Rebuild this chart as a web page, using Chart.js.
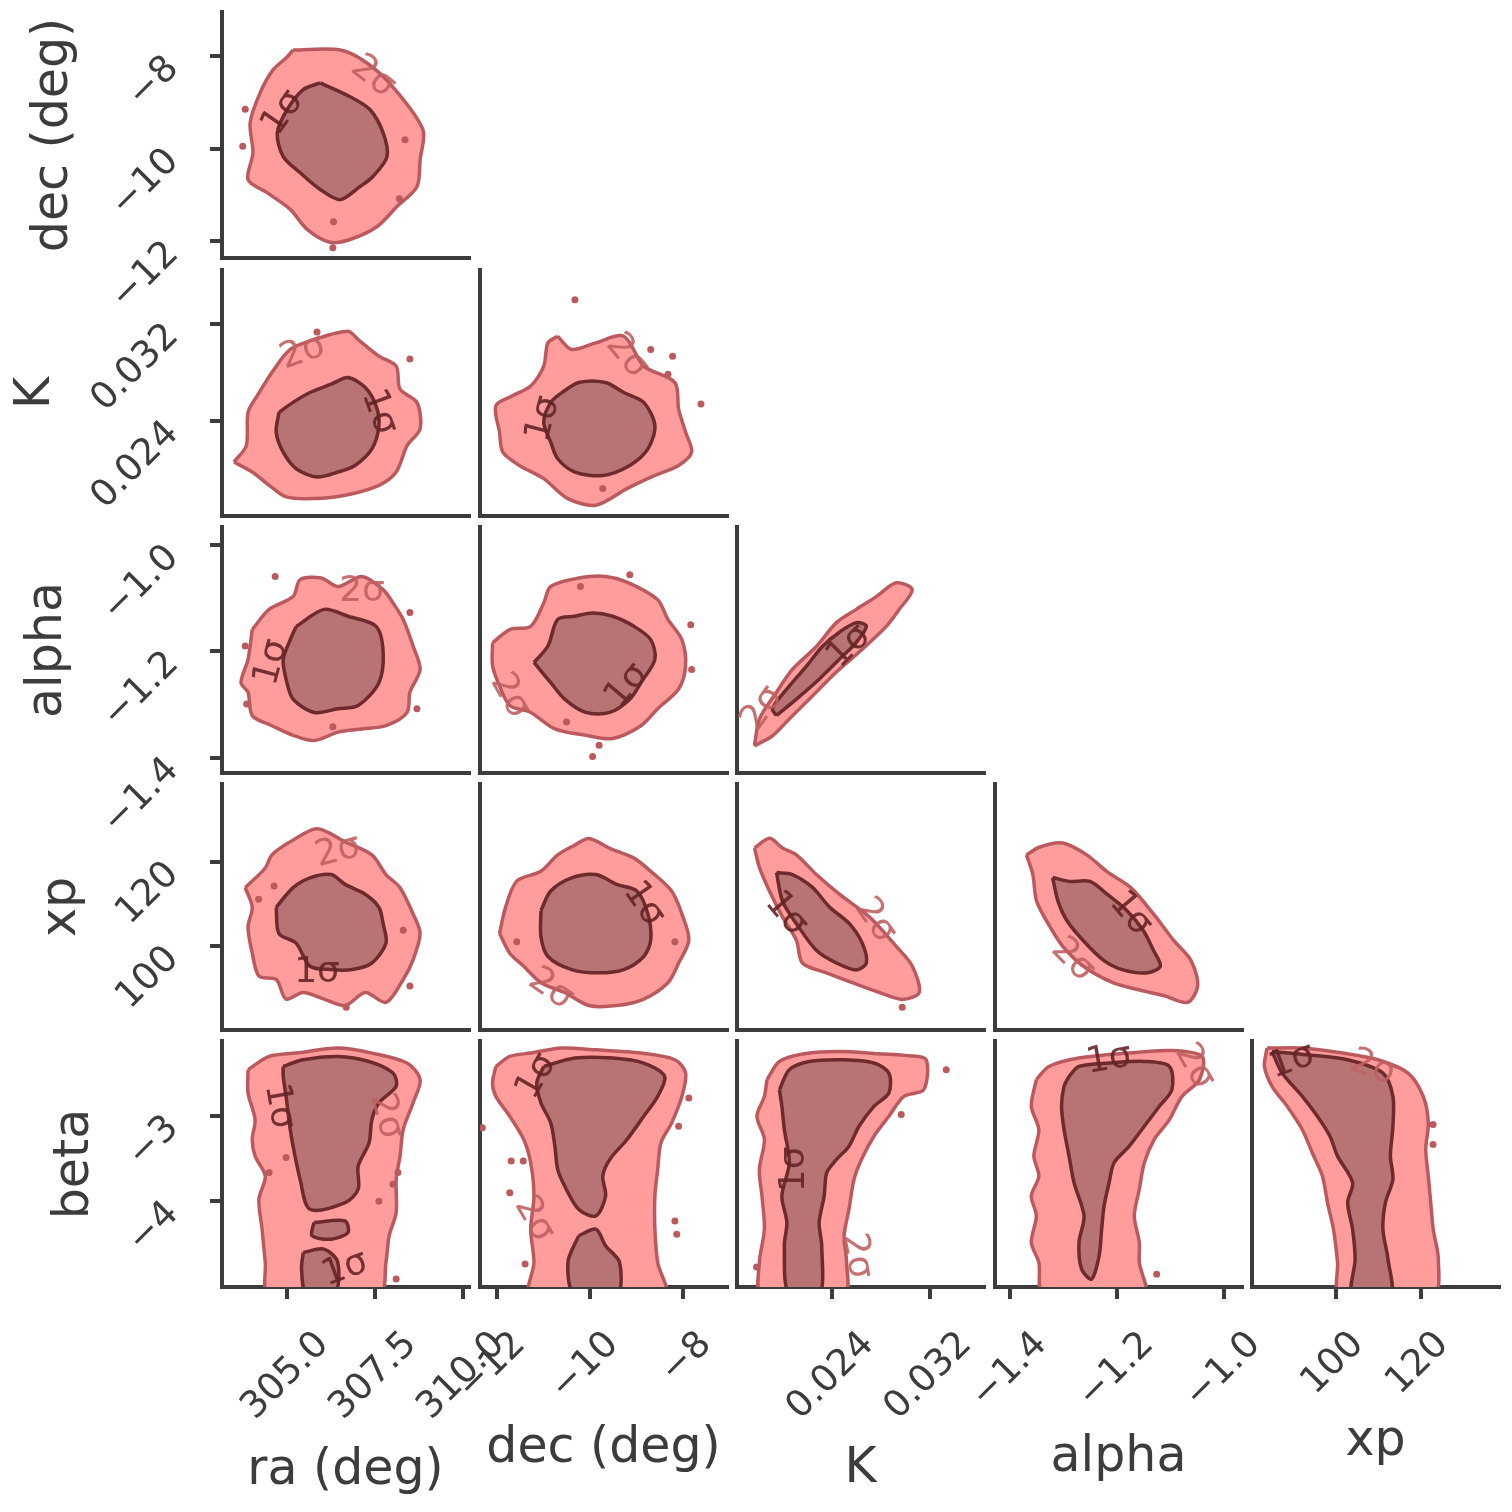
<!DOCTYPE html>
<html>
<head>
<meta charset="utf-8">
<title>Corner plot</title>
<script src="https://cdn.jsdelivr.net/npm/chart.js@4.4.1/dist/chart.umd.min.js"></script>
<style>
  html, body { margin: 0; padding: 0; background: #fff; }
  #page { position: relative; width: 1512px; height: 1512px; overflow: hidden; background: #fff; }
  #page canvas { position: absolute; }
</style>
</head>
<body>
<div id="page"></div>
<script>
// parameters (x columns: 0..4, y rows: 1..5)
const paramNames = ['ra (deg)', 'dec (deg)', 'K', 'alpha', 'xp', 'beta'];
const paramMin = [303.15, -12.36, 0.0162, -1.429, 80.2, -5.0];
const paramMax = [310.17, -7.05, 0.0364, -0.966, 138.4, -2.13];
const paramTicks = [[305, 307.5, 310], [-12, -10, -8], [0.024, 0.032], [-1.4, -1.2, -1.0], [100, 120], [-4, -3]];
const tickLabels = [['305.0', '307.5', '310.0'], ['−12', '−10', '−8'], ['0.024', '0.032'], ['−1.4', '−1.2', '−1.0'], ['100', '120'], ['−4', '−3']];

// contour levels: [x, y] in data units
const RA_DEC_2S = [[305.17,-7.87],[306.51,-7.87],[307.27,-8.15],[308.01,-8.67],[308.86,-9.59],[308.78,-10.24],[308.69,-10.82],[308.12,-11.25],[307.56,-11.68],[306.79,-11.96],[306.22,-12.02],[305.57,-11.74],[305.09,-11.31],[304.43,-10.95],[303.89,-10.67],[304.03,-10.09],[303.95,-9.44],[304.23,-8.80],[304.60,-8.30],[305.00,-8.02]];
const RA_DEC_1S = [[305.94,-8.58],[306.79,-8.88],[307.36,-9.16],[307.73,-9.66],[307.84,-10.17],[307.44,-10.60],[307.07,-10.82],[306.51,-11.10],[305.94,-10.88],[305.37,-10.52],[304.89,-10.17],[304.72,-9.66],[305.00,-9.16],[305.45,-8.73]];
const RA_DEC_DOTS = [[303.81,-9.15],[303.74,-9.95],[308.35,-9.81],[308.19,-11.08],[306.30,-12.14],[306.32,-11.58]];
const RA_DEC_LBL = [[304.89,-9.23,'1σ',-55],[307.44,-8.45,'2σ',38]];

const RA_K_2S = [[303.49,0.02063],[303.84,0.02198],[303.89,0.02471],[304.15,0.02607],[304.63,0.02824],[305.09,0.02988],[305.77,0.03069],[306.73,0.03137],[307.02,0.03069],[307.61,0.02933],[308.10,0.02851],[308.21,0.02661],[308.69,0.02553],[308.78,0.02335],[308.41,0.02198],[308.10,0.01981],[307.61,0.01872],[306.65,0.01790],[305.77,0.01763],[304.97,0.01777],[304.49,0.01872],[304.01,0.01981]];
const RA_K_1S = [[304.77,0.02471],[305.17,0.02553],[305.65,0.02634],[306.25,0.02702],[306.73,0.02757],[307.22,0.02675],[307.53,0.02525],[307.61,0.02362],[307.41,0.02171],[306.93,0.02035],[306.45,0.01981],[305.85,0.01940],[305.26,0.02008],[304.89,0.02144],[304.69,0.02308]];
const RA_K_DOTS = [[305.85,0.0313],[308.49,0.0291]];
const RA_K_LBL = [[305.45,0.02963,'2σ',-20],[307.61,0.02473,'1σ',70]];

const DEC_K_2S = [[-10.69,0.03096],[-10.39,0.02988],[-9.87,0.03042],[-9.27,0.03096],[-8.84,0.02851],[-8.17,0.02716],[-8.09,0.02498],[-7.94,0.02308],[-7.81,0.02144],[-8.09,0.02035],[-8.60,0.01953],[-9.20,0.01845],[-9.87,0.01709],[-10.47,0.01763],[-10.99,0.01927],[-11.51,0.02035],[-11.87,0.02144],[-11.94,0.02308],[-12.02,0.02525],[-11.66,0.02607],[-11.27,0.02688],[-10.99,0.02851],[-10.90,0.03042]];
const DEC_K_1S = [[-10.60,0.02634],[-10.24,0.02716],[-9.66,0.02716],[-9.27,0.02634],[-8.84,0.02553],[-8.60,0.02362],[-8.75,0.02171],[-9.14,0.02035],[-9.72,0.01953],[-10.32,0.01981],[-10.69,0.02090],[-10.84,0.02226],[-10.99,0.02389],[-10.84,0.02553]];
const DEC_K_DOTS = [[-10.32,0.03396],[-8.69,0.02988],[-8.32,0.02784],[-8.22,0.02931],[-7.61,0.02539],[-9.72,0.01845]];
const DEC_K_LBL = [[-10.99,0.02416,'1σ',-75],[-9.20,0.02933,'2σ',50]];

const RA_AL_2S = [[304.01,-1.159],[304.49,-1.121],[305.17,-1.097],[305.37,-1.065],[305.97,-1.062],[306.45,-1.078],[307.13,-1.059],[307.73,-1.084],[308.01,-1.109],[308.30,-1.140],[308.58,-1.190],[308.78,-1.234],[308.49,-1.277],[308.41,-1.315],[307.81,-1.340],[307.13,-1.346],[306.45,-1.352],[305.77,-1.368],[305.17,-1.358],[304.57,-1.340],[304.01,-1.321],[303.89,-1.277],[303.69,-1.259],[303.89,-1.215]];
const RA_AL_1S = [[305.26,-1.153],[306.05,-1.121],[306.73,-1.134],[307.53,-1.153],[307.73,-1.202],[307.61,-1.259],[307.02,-1.302],[306.45,-1.308],[305.77,-1.315],[305.17,-1.290],[304.97,-1.252],[304.89,-1.215],[305.09,-1.178]];
const RA_AL_DOTS = [[304.66,-1.059],[303.81,-1.190],[303.85,-1.299],[308.49,-1.127],[308.69,-1.308],[306.30,-1.342]];
const RA_AL_LBL = [[307.13,-1.087,'2σ',0],[304.57,-1.221,'1σ',-75]];

const DEC_AL_2S = [[-12.09,-1.184],[-11.72,-1.159],[-11.27,-1.153],[-10.99,-1.109],[-10.84,-1.078],[-10.24,-1.062],[-9.66,-1.059],[-9.14,-1.072],[-8.54,-1.103],[-8.32,-1.140],[-8.02,-1.178],[-7.94,-1.227],[-8.09,-1.271],[-8.54,-1.308],[-8.90,-1.340],[-9.51,-1.364],[-10.09,-1.358],[-10.75,-1.346],[-11.27,-1.315],[-11.72,-1.302],[-11.94,-1.265],[-12.09,-1.227]];
const DEC_AL_1S = [[-11.20,-1.221],[-10.90,-1.190],[-10.69,-1.140],[-10.32,-1.134],[-9.94,-1.128],[-9.51,-1.134],[-9.05,-1.153],[-8.69,-1.178],[-8.60,-1.215],[-8.90,-1.259],[-9.14,-1.290],[-9.57,-1.315],[-10.09,-1.315],[-10.54,-1.290],[-10.84,-1.259]];
const DEC_AL_DOTS = [[-9.94,-1.398],[-9.80,-1.377],[-7.83,-1.150],[-7.81,-1.234],[-9.14,-1.056],[-10.20,-1.078],[-10.50,-1.333]];
const DEC_AL_LBL = [[-11.72,-1.284,'2σ',60],[-9.20,-1.265,'1σ',-50]];

const K_AL_2S = [[0.01763,-1.378],[0.01910,-1.359],[0.02049,-1.327],[0.02237,-1.284],[0.02433,-1.239],[0.02645,-1.196],[0.02841,-1.153],[0.02947,-1.121],[0.03053,-1.084],[0.02922,-1.071],[0.02759,-1.097],[0.02596,-1.121],[0.02433,-1.146],[0.02269,-1.191],[0.02073,-1.234],[0.01943,-1.277],[0.01804,-1.327]];
const K_AL_1S = [[0.01943,-1.321],[0.02106,-1.290],[0.02294,-1.252],[0.02457,-1.215],[0.02596,-1.183],[0.02678,-1.153],[0.02596,-1.146],[0.02457,-1.164],[0.02318,-1.191],[0.02188,-1.228],[0.02049,-1.265],[0.01910,-1.308]];
const K_AL_LBL = [[0.02539,-1.191,'1σ',-45],[0.01829,-1.308,'2σ',-55]];

const RA_XP_2S = [[303.81,113.88],[304.38,118.53],[304.57,121.63],[305.09,124.72],[305.85,127.84],[306.65,124.72],[307.41,121.63],[307.81,116.98],[308.21,113.88],[308.58,107.67],[308.78,103.02],[308.58,96.81],[308.30,92.16],[307.81,86.74],[307.22,89.07],[306.65,85.98],[306.05,87.51],[305.45,89.07],[304.97,87.51],[304.69,92.16],[304.20,92.95],[304.01,98.37],[303.89,104.58],[304.01,109.23]];
const RA_XP_1S = [[304.69,109.23],[305.17,113.88],[305.65,116.21],[306.25,116.98],[306.65,114.65],[307.22,112.33],[307.61,109.23],[307.73,105.35],[307.81,100.70],[307.41,96.05],[306.85,94.49],[306.25,94.49],[305.65,95.28],[305.26,100.70],[304.77,103.02]];
const RA_XP_DOTS = [[304.63,114.26],[308.30,103.80],[308.49,90.63],[306.68,85.58],[304.19,111.16]];
const RA_XP_LBL = [[306.45,122.40,'2σ',-15],[305.85,93.72,'1σ',0]];

const DEC_XP_2S = [[-11.94,103.02],[-11.81,109.23],[-11.57,115.42],[-11.05,117.74],[-10.69,121.63],[-10.32,123.95],[-10.02,125.51],[-9.57,123.19],[-9.05,120.86],[-8.69,117.74],[-8.24,113.09],[-8.02,107.67],[-7.87,101.47],[-8.09,96.05],[-8.32,91.40],[-8.84,87.51],[-9.42,85.98],[-10.02,85.98],[-10.54,89.07],[-11.05,91.40],[-11.42,95.28],[-11.72,98.37]];
const DEC_XP_1S = [[-11.05,108.44],[-10.84,113.09],[-10.39,116.21],[-9.87,116.98],[-9.42,114.65],[-8.99,113.09],[-8.75,107.67],[-8.69,101.47],[-8.84,97.60],[-9.27,94.49],[-9.81,93.72],[-10.39,94.49],[-10.90,97.60],[-11.05,102.26]];
const DEC_XP_DOTS = [[-11.57,101.09],[-8.17,101.09]];
const DEC_XP_LBL = [[-8.84,110.0,'1σ',55],[-10.84,89.84,'2σ',35]];

const K_XP_2S = [[0.01763,123.26],[0.01886,125.58],[0.01992,123.26],[0.02106,121.63],[0.02269,116.98],[0.02457,112.33],[0.02702,106.98],[0.02922,100.00],[0.03053,95.35],[0.03110,89.07],[0.02971,87.44],[0.02784,89.07],[0.02563,91.40],[0.02351,93.72],[0.02155,96.05],[0.02106,101.40],[0.01992,106.98],[0.01886,113.02],[0.01804,118.60]];
const K_XP_1S = [[0.01943,117.44],[0.02073,116.98],[0.02237,113.95],[0.02376,109.30],[0.02539,105.35],[0.02645,100.70],[0.02678,96.05],[0.02596,94.42],[0.02433,96.05],[0.02269,99.07],[0.02106,105.35],[0.01992,110.70]];
const K_XP_DOTS = [[0.02971,85.58]];
const K_XP_LBL = [[0.02022,107.67,'1σ',50],[0.02750,106.10,'2σ',55]];

const AL_XP_2S = [[-1.370,121.63],[-1.345,123.49],[-1.302,124.42],[-1.257,121.63],[-1.219,117.67],[-1.175,113.95],[-1.132,107.67],[-1.094,101.40],[-1.062,96.74],[-1.049,90.70],[-1.068,86.74],[-1.113,88.37],[-1.162,89.77],[-1.208,91.40],[-1.264,95.35],[-1.302,100.00],[-1.326,104.65],[-1.351,110.70],[-1.358,116.98]];
const AL_XP_1S = [[-1.321,116.28],[-1.289,115.35],[-1.251,115.35],[-1.219,112.33],[-1.181,108.37],[-1.151,103.72],[-1.132,99.07],[-1.119,95.35],[-1.143,93.72],[-1.189,94.42],[-1.226,96.74],[-1.264,101.40],[-1.294,106.05],[-1.311,110.70]];
const AL_XP_LBL = [[-1.175,107.67,'1σ',50],[-1.283,96.74,'2σ',45]];

const RA_BE_2S = [[303.89,-2.465],[304.49,-2.310],[305.26,-2.271],[306.45,-2.213],[307.41,-2.271],[308.41,-2.387],[308.78,-2.581],[308.58,-2.852],[308.30,-3.163],[308.21,-3.473],[308.10,-3.744],[308.10,-4.131],[307.90,-4.403],[307.81,-4.713],[307.61,-5.1],[304.49,-5.1],[304.38,-4.713],[304.29,-4.326],[304.20,-3.977],[304.38,-3.706],[304.09,-3.473],[304.01,-3.279],[304.09,-3.047],[303.89,-2.736]];
const RA_BE_1S = [[304.89,-2.427],[305.45,-2.349],[306.45,-2.310],[307.33,-2.369],[308.01,-2.504],[308.10,-2.659],[307.61,-2.852],[307.41,-3.047],[307.33,-3.317],[307.02,-3.590],[307.02,-3.860],[306.65,-4.015],[305.65,-4.093],[305.37,-3.744],[305.17,-3.357],[305.09,-3.163],[304.97,-2.776],[304.89,-2.543]];
const RA_BE_1S_B = [[305.76,-4.248],[306.64,-4.229],[306.73,-4.364],[306.25,-4.442],[305.71,-4.403]];
const RA_BE_1S_C = [[305.46,-4.597],[306.05,-4.558],[306.44,-4.713],[306.34,-5.1],[305.56,-5.1],[305.41,-4.791]];
const RA_BE_DOTS = [[304.49,-3.663],[304.97,-3.488],[308.15,-3.663],[308.01,-3.802],[307.61,-4.0],[308.10,-4.907]];
const RA_BE_LBL = [[304.77,-2.892,'1σ',80],[307.81,-3.008,'2σ',75],[306.65,-4.791,'1σ',-20]];

const DEC_BE_2S = [[-12.02,-2.427],[-11.72,-2.310],[-11.27,-2.271],[-10.60,-2.213],[-9.87,-2.233],[-8.90,-2.271],[-8.17,-2.349],[-7.94,-2.504],[-8.02,-2.776],[-8.24,-3.085],[-8.47,-3.317],[-8.54,-3.628],[-8.60,-3.938],[-8.60,-4.326],[-8.54,-4.713],[-8.39,-5.1],[-11.27,-5.1],[-11.20,-4.713],[-11.27,-4.326],[-11.20,-3.938],[-11.27,-3.550],[-11.42,-3.279],[-11.72,-3.008],[-12.02,-2.776],[-12.09,-2.620]];
const DEC_BE_1S = [[-10.99,-2.427],[-10.32,-2.329],[-9.51,-2.329],[-8.84,-2.387],[-8.39,-2.543],[-8.54,-2.776],[-8.84,-3.008],[-9.20,-3.279],[-9.57,-3.512],[-9.72,-3.706],[-9.66,-3.938],[-9.87,-4.171],[-10.24,-4.093],[-10.54,-3.822],[-10.69,-3.628],[-10.75,-3.357],[-10.84,-3.085],[-11.05,-2.852],[-11.14,-2.620]];
const DEC_BE_1S_B = [[-10.24,-4.403],[-9.87,-4.326],[-9.66,-4.519],[-9.36,-4.713],[-9.42,-5.1],[-10.32,-5.1],[-10.47,-4.713]];
const DEC_BE_DOTS = [[-11.69,-3.531],[-11.43,-3.531],[-11.72,-3.899],[-12.31,-3.143],[-7.87,-2.795],[-8.09,-3.124],[-8.17,-4.229],[-8.13,-4.384],[-11.39,-4.733]];
const DEC_BE_LBL = [[-11.14,-2.543,'1σ',-60],[-11.20,-4.209,'2σ',60]];

const K_BE_2S = [[0.01865,-2.581],[0.01967,-2.369],[0.02170,-2.279],[0.02455,-2.252],[0.02780,-2.279],[0.03025,-2.302],[0.03167,-2.349],[0.03147,-2.698],[0.02985,-2.776],[0.02862,-3.008],[0.02740,-3.241],[0.02638,-3.512],[0.02577,-3.744],[0.02536,-4.093],[0.02496,-4.403],[0.02516,-4.713],[0.02496,-5.1],[0.01824,-5.1],[0.01803,-4.713],[0.01844,-4.326],[0.01824,-3.938],[0.01803,-3.628],[0.01844,-3.279],[0.01783,-3.008],[0.01844,-2.776]];
const K_BE_1S = [[0.01967,-2.698],[0.02048,-2.465],[0.02211,-2.369],[0.02496,-2.349],[0.02740,-2.387],[0.02862,-2.504],[0.02862,-2.736],[0.02740,-2.892],[0.02618,-3.124],[0.02536,-3.357],[0.02434,-3.512],[0.02354,-3.666],[0.02333,-3.938],[0.02292,-4.248],[0.02313,-4.520],[0.02292,-5.1],[0.02048,-5.1],[0.02007,-4.520],[0.02028,-4.248],[0.01987,-3.938],[0.02048,-3.550],[0.02007,-3.163],[0.01987,-2.892]];
const K_BE_DOTS = [[0.03331,-2.465],[0.02963,-2.988],[0.01780,-4.767]];
const K_BE_LBL = [[0.02088,-3.628,'1σ',-90],[0.02596,-4.636,'2σ',80]];

const AL_BE_2S = [[-1.3515,-2.581],[-1.3279,-2.427],[-1.2715,-2.329],[-1.1774,-2.271],[-1.1021,-2.241],[-1.0409,-2.310],[-1.0457,-2.581],[-1.0785,-2.776],[-1.1021,-3.047],[-1.1304,-3.279],[-1.1491,-3.550],[-1.1585,-3.860],[-1.1679,-4.171],[-1.1585,-4.480],[-1.1585,-4.713],[-1.1491,-5.1],[-1.3374,-5.1],[-1.3468,-4.713],[-1.3609,-4.480],[-1.3515,-4.171],[-1.3609,-3.938],[-1.3468,-3.706],[-1.3562,-3.473],[-1.3468,-3.163],[-1.3609,-2.892]];
const AL_BE_1S = [[-1.2902,-2.543],[-1.2715,-2.427],[-1.2151,-2.387],[-1.1491,-2.369],[-1.1021,-2.427],[-1.0974,-2.698],[-1.1209,-2.892],[-1.1491,-3.124],[-1.1774,-3.357],[-1.2057,-3.550],[-1.2151,-3.783],[-1.2245,-4.055],[-1.2291,-4.326],[-1.2338,-4.636],[-1.2479,-4.907],[-1.2668,-4.791],[-1.2715,-4.480],[-1.2621,-4.171],[-1.2809,-3.783],[-1.2902,-3.473],[-1.2996,-3.163],[-1.3043,-2.892],[-1.2996,-2.659]];
const AL_BE_DOTS = [[-1.126,-4.85]];
const AL_BE_LBL = [[-1.215,-2.349,'1σ',-10],[-1.055,-2.427,'2σ',60]];

const XP_BE_2S = [[83.74,-2.213],[92.05,-2.213],[101.55,-2.271],[109.86,-2.349],[116.98,-2.504],[120.55,-2.776],[121.74,-3.085],[121.14,-3.395],[121.74,-3.706],[122.31,-4.015],[122.90,-4.326],[124.10,-4.674],[122.90,-5.1],[100.95,-5.1],[100.36,-4.713],[99.40,-4.326],[97.98,-4.015],[96.79,-3.706],[94.40,-3.434],[92.05,-3.163],[88.48,-2.892],[84.93,-2.659],[83.14,-2.427]];
const XP_BE_1S = [[84.93,-2.252],[93.24,-2.291],[102.74,-2.349],[111.05,-2.504],[113.40,-2.776],[113.40,-3.124],[112.81,-3.473],[113.40,-3.744],[111.64,-4.015],[111.05,-4.326],[112.24,-4.674],[112.81,-5.1],[103.90,-5.1],[104.50,-4.674],[103.90,-4.326],[102.74,-4.015],[103.90,-3.783],[100.36,-3.473],[98.57,-3.241],[95.60,-3.008],[92.05,-2.776],[87.29,-2.504]];
const XP_BE_DOTS = [[122.86,-3.105],[122.86,-3.337]];
const XP_BE_LBL = [[89.67,-2.369,'1σ',-20],[108.67,-2.445,'2σ',20]];

// which panel gets which contours (row r plots param r+1 against param c)
const panels = [
  { r: 0, c: 0, s2: RA_DEC_2S, s1: [RA_DEC_1S], dots: RA_DEC_DOTS, lbl: RA_DEC_LBL },
  { r: 1, c: 0, s2: RA_K_2S, s1: [RA_K_1S], dots: RA_K_DOTS, lbl: RA_K_LBL },
  { r: 1, c: 1, s2: DEC_K_2S, s1: [DEC_K_1S], dots: DEC_K_DOTS, lbl: DEC_K_LBL },
  { r: 2, c: 0, s2: RA_AL_2S, s1: [RA_AL_1S], dots: RA_AL_DOTS, lbl: RA_AL_LBL },
  { r: 2, c: 1, s2: DEC_AL_2S, s1: [DEC_AL_1S], dots: DEC_AL_DOTS, lbl: DEC_AL_LBL },
  { r: 2, c: 2, s2: K_AL_2S, s1: [K_AL_1S], dots: [], lbl: K_AL_LBL },
  { r: 3, c: 0, s2: RA_XP_2S, s1: [RA_XP_1S], dots: RA_XP_DOTS, lbl: RA_XP_LBL },
  { r: 3, c: 1, s2: DEC_XP_2S, s1: [DEC_XP_1S], dots: DEC_XP_DOTS, lbl: DEC_XP_LBL },
  { r: 3, c: 2, s2: K_XP_2S, s1: [K_XP_1S], dots: K_XP_DOTS, lbl: K_XP_LBL },
  { r: 3, c: 3, s2: AL_XP_2S, s1: [AL_XP_1S], dots: [], lbl: AL_XP_LBL },
  { r: 4, c: 0, s2: RA_BE_2S, s1: [RA_BE_1S, RA_BE_1S_B, RA_BE_1S_C], dots: RA_BE_DOTS, lbl: RA_BE_LBL },
  { r: 4, c: 1, s2: DEC_BE_2S, s1: [DEC_BE_1S, DEC_BE_1S_B], dots: DEC_BE_DOTS, lbl: DEC_BE_LBL },
  { r: 4, c: 2, s2: K_BE_2S, s1: [K_BE_1S], dots: K_BE_DOTS, lbl: K_BE_LBL },
  { r: 4, c: 3, s2: AL_BE_2S, s1: [AL_BE_1S], dots: AL_BE_DOTS, lbl: AL_BE_LBL },
  { r: 4, c: 4, s2: XP_BE_2S, s1: [XP_BE_1S], dots: XP_BE_DOTS, lbl: XP_BE_LBL },
];

// layout + style
const panelLeft = [222, 480, 737, 995, 1252];
const panelTop = [12, 270, 527, 784, 1041];
const PW = 247, PH = 246;
const INK = '#3c3c3c';
const FONT = 'DejaVu Sans';
const FILL2 = '#ff9d9d', LINE2 = '#bb5a5e';
const FILL1 = '#b87474', LINE1 = '#6e2a2c';
const xLabelShift = [36, 23, 36, 31, 22];
const xTitlePad = [11, 33, 13, 24, 40];
const yTitlePad = [0, 25, 7, 19, 33, 46];

const toPts = pts => pts.concat([pts[0]]).map(p => ({ x: p[0], y: p[1] }));

function scaleOpts(pi, isX, outer, size) {
  const titlePad = isX ? { top: 0, bottom: xTitlePad[pi] } : { top: yTitlePad[pi], bottom: 0 };
  return {
    type: 'linear',
    position: isX ? 'bottom' : 'left',
    min: paramMin[pi],
    max: paramMax[pi],
    border: { display: true, color: INK, width: 4 },
    grid: { display: outer, drawOnChartArea: false, drawTicks: true, tickLength: 12, color: INK, lineWidth: 4 },
    ticks: {
      display: outer,
      autoSkip: false,
      minRotation: 45,
      maxRotation: 45,
      padding: isX ? 24 : 37,
      labelOffset: isX ? xLabelShift[pi] : 7,
      color: INK,
      font: { family: FONT, size: 37 },
      callback: (v, i) => tickLabels[pi][i]
    },
    title: { display: outer, text: paramNames[pi], color: INK, font: { family: FONT, size: 49 }, padding: titlePad },
    afterBuildTicks: s => { s.ticks = paramTicks[pi].map(v => ({ value: v })); },
    afterFit: s => {
      if (isX) s.height = size; else s.width = size;
      s.paddingLeft = 0; s.paddingRight = 0; s.paddingTop = 0; s.paddingBottom = 0;
    }
  };
}

function sigmaLabels(items) {
  return {
    id: 'sigmaLabels',
    afterDatasetsDraw(chart) {
      const { ctx, scales } = chart;
      ctx.save();
      ctx.font = '36px "DejaVu Sans"';
      ctx.textAlign = 'center';
      ctx.textBaseline = 'middle';
      items.forEach(([vx, vy, txt, ang]) => {
        ctx.save();
        ctx.translate(scales.x.getPixelForValue(vx), scales.y.getPixelForValue(vy));
        ctx.rotate(ang * Math.PI / 180);
        ctx.fillStyle = txt === '1σ' ? 'rgba(100,36,38,0.9)' : 'rgba(192,96,98,0.9)';
        ctx.fillText(txt, 0, 0);
        ctx.restore();
      });
      ctx.restore();
    }
  };
}

const page = document.getElementById('page');

panels.forEach(p => {
  const L = p.c === 0 ? panelLeft[0] : 130;
  const T = Math.min(60, panelTop[p.r]);
  const R = Math.min(60, 1512 - panelLeft[p.c] - PW);
  const B = p.r === 4 ? 1512 - panelTop[4] - PH : 80;
  const w = L + PW + R, h = T + PH + B;
  const cv = document.createElement('canvas');
  cv.width = w; cv.height = h;
  cv.style.left = (panelLeft[p.c] - L) + 'px';
  cv.style.top = (panelTop[p.r] - T) + 'px';
  cv.style.width = w + 'px';
  cv.style.height = h + 'px';
  page.appendChild(cv);

  const datasets = [{
    data: toPts(p.s2), showLine: true, fill: 'shape', tension: 0.3,
    backgroundColor: FILL2, borderColor: LINE2, borderWidth: 3.5, borderJoinStyle: 'round',
    pointRadius: 0, order: 3
  }];
  p.s1.forEach(poly => datasets.push({
    data: toPts(poly), showLine: true, fill: 'shape', tension: 0.3,
    backgroundColor: FILL1, borderColor: LINE1, borderWidth: 3.5, borderJoinStyle: 'round',
    pointRadius: 0, order: 2
  }));
  if (p.dots.length) datasets.push({
    data: p.dots.map(d => ({ x: d[0], y: d[1] })), showLine: false,
    pointRadius: 3.5, pointBackgroundColor: LINE2, pointBorderWidth: 0, order: 1
  });

  new Chart(cv, {
    type: 'scatter',
    data: { datasets },
    options: {
      responsive: false,
      maintainAspectRatio: false,
      devicePixelRatio: 1,
      animation: false,
      events: [],
      layout: { autoPadding: false, padding: { left: 0, top: T, right: R, bottom: 0 } },
      plugins: { legend: { display: false }, tooltip: { enabled: false } },
      scales: {
        x: scaleOpts(p.c, true, p.r === 4, B),
        y: scaleOpts(p.r + 1, false, p.c === 0, L)
      }
    },
    plugins: [sigmaLabels(p.lbl)]
  });
});
</script>
</body>
</html>
